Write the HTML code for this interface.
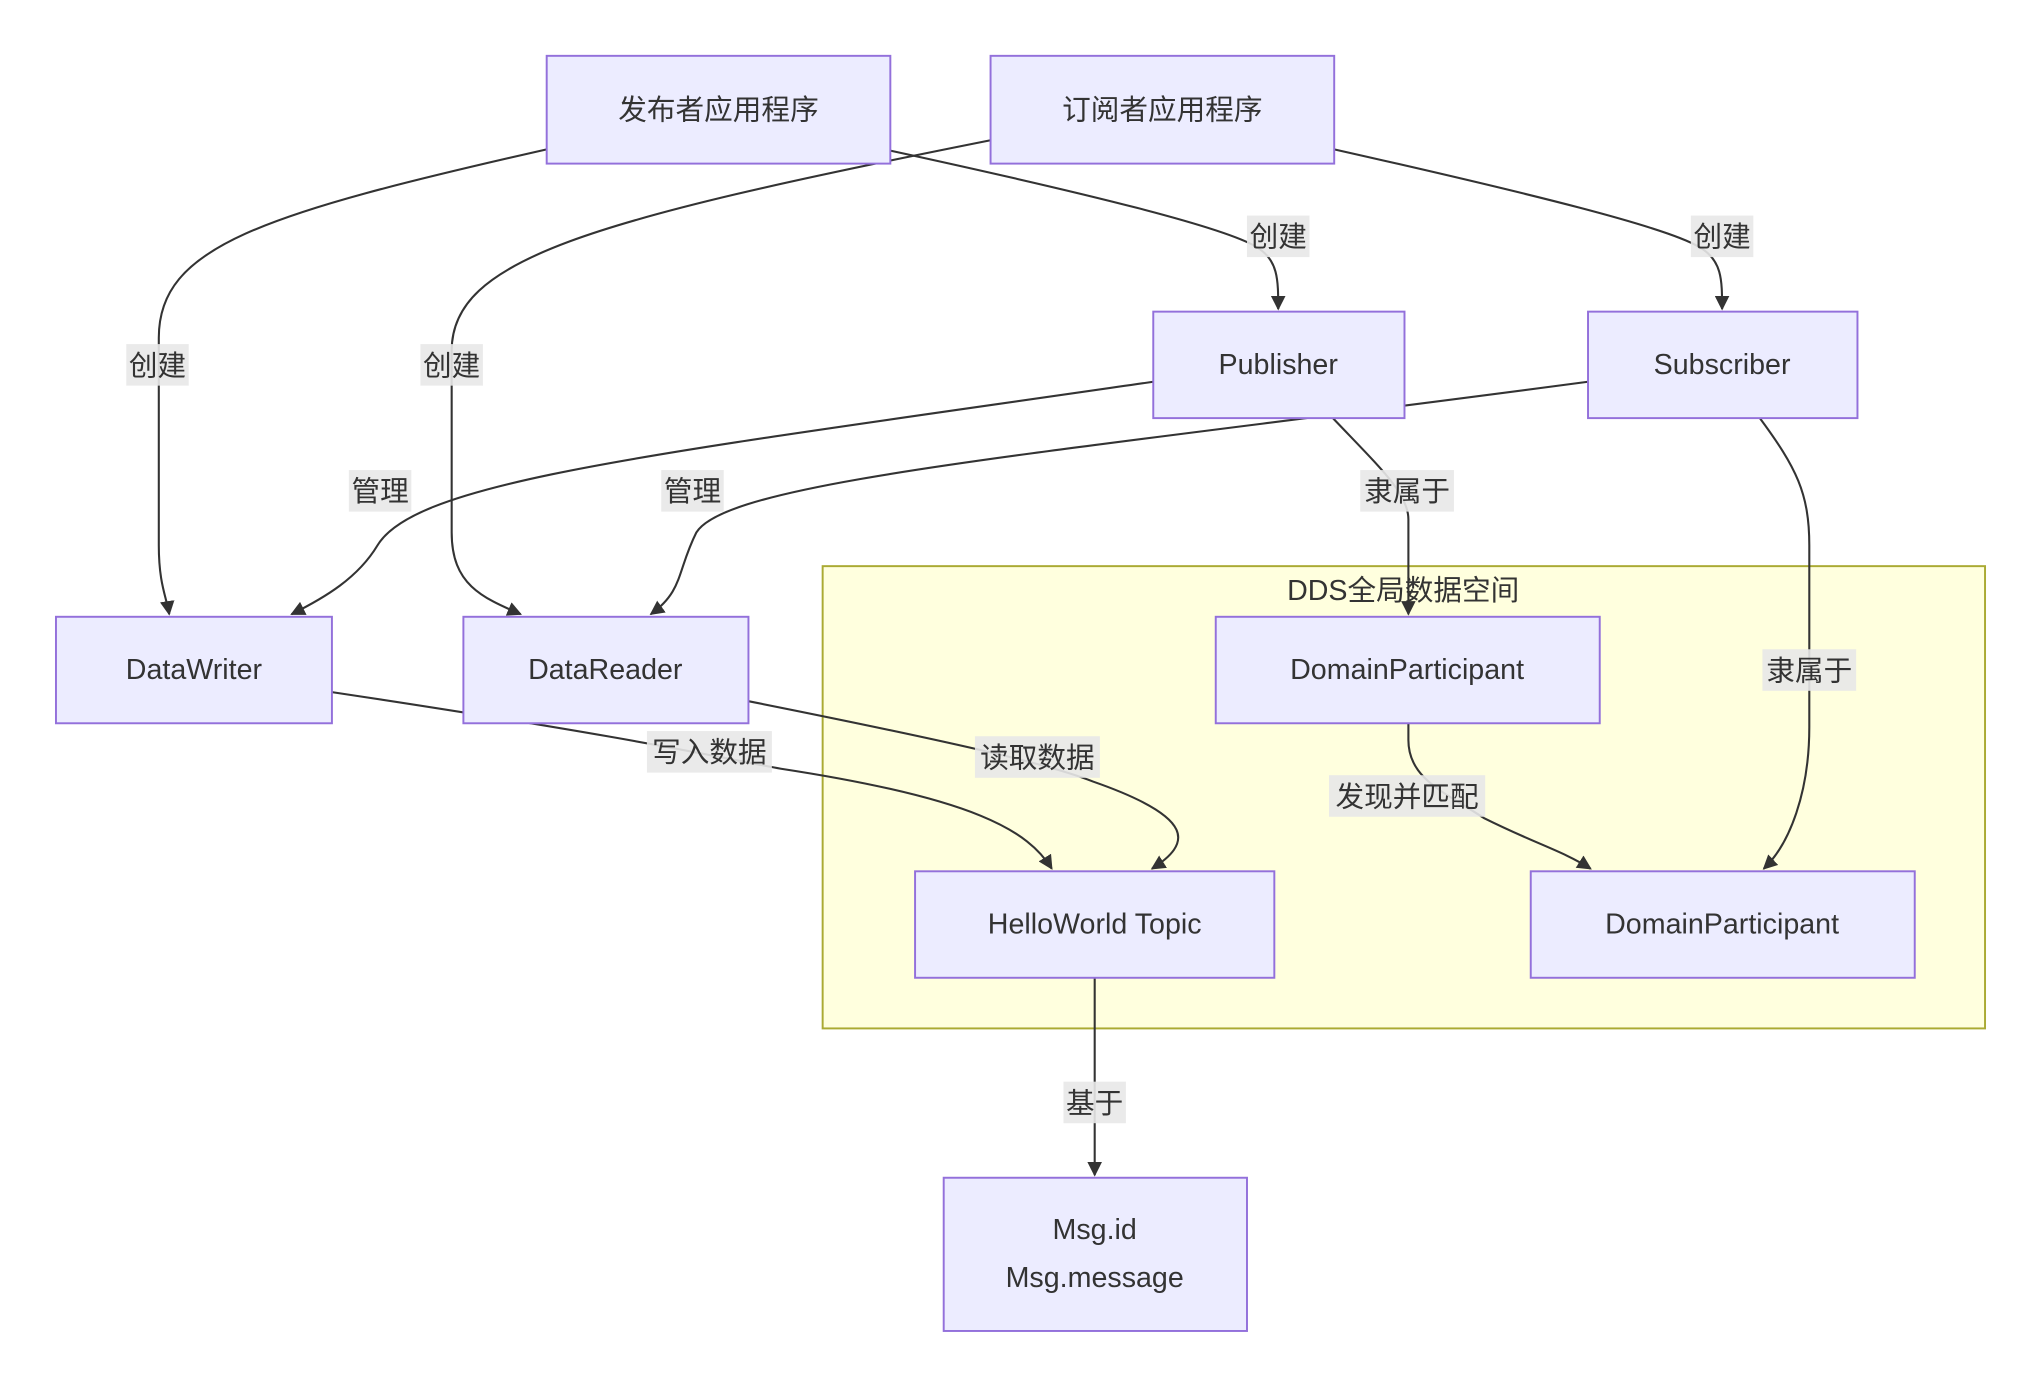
<!DOCTYPE html>
<html><head><meta charset="utf-8"><style>
html,body{margin:0;padding:0;background:#fff;}
svg{display:block;}
text{font-family:"Liberation Sans","Noto Sans CJK SC",sans-serif;font-size:22px;fill:#333;}
.n{fill:#ececff;stroke:#9370db;stroke-width:1.5;}
.e{fill:none;stroke:#333;stroke-width:1.6;}
.lb{fill:#e8e8e8;opacity:0.9;}
</style></head><body>
<svg width="2041" height="1392" viewBox="0 0 1568 1072" preserveAspectRatio="none" xmlns="http://www.w3.org/2000/svg">
<defs><marker id="a" viewBox="0 0 10 10" refX="9" refY="5" markerWidth="7" markerHeight="7" orient="auto"><path d="M0,0L10,5L0,10z" fill="#333"/></marker></defs>
<rect x="632" y="436" width="893" height="356" fill="#ffffde" stroke="#aaaa33" stroke-width="1.5"/>
<text x="1078" y="462" text-anchor="middle">DDS全局数据空间</text>

<path class="e" marker-end="url(#a)" d="M420,115 C200,165 122,190 122,260 L122,420 C122,450 128,460 130,473"/>
<path class="e" marker-end="url(#a)" d="M761,108 C450,170 347,200 347,270 L347,410 C347,450 370,460 400,473"/>
<path class="e" marker-end="url(#a)" d="M684,116 C840,150 940,175 965,190 C982,200 982,215 982,238"/>
<path class="e" marker-end="url(#a)" d="M1025,115 C1180,150 1280,175 1305,190 C1323,200 1323,215 1323,238"/>
<path class="e" marker-end="url(#a)" d="M886,294 C500,350 320,370 290,420 C275,445 250,460 224,473"/>
<path class="e" marker-end="url(#a)" d="M1220,294 C800,350 560,370 535,410 C520,440 525,455 500,473"/>
<path class="e" marker-end="url(#a)" d="M1024,322 C1060,360 1082,380 1082,400 L1082,473"/>
<path class="e" marker-end="url(#a)" d="M1352,322 C1380,360 1390,380 1390,420 L1390,560 C1390,610 1375,650 1355,669"/>
<path class="e" marker-end="url(#a)" d="M255,533 C500,570 560,585 600,592 C750,615 790,640 808,669"/>
<path class="e" marker-end="url(#a)" d="M575,540 C750,575 810,590 840,602 C920,630 915,650 885,669"/>
<path class="e" marker-end="url(#a)" d="M1082,557 L1082,570 C1082,600 1110,610 1140,630 C1180,650 1200,655 1222,669"/>
<path class="e" marker-end="url(#a)" d="M841,753 L841,905"/>

<g>
<rect class="lb" x="97" y="265" width="48" height="32"/><text x="121" y="289" text-anchor="middle">创建</text>
<rect class="lb" x="323" y="265" width="48" height="32"/><text x="347" y="289" text-anchor="middle">创建</text>
<rect class="lb" x="958" y="166" width="48" height="32"/><text x="982" y="190" text-anchor="middle">创建</text>
<rect class="lb" x="1299" y="166" width="48" height="32"/><text x="1323" y="190" text-anchor="middle">创建</text>
<rect class="lb" x="268" y="362" width="48" height="32"/><text x="292" y="386" text-anchor="middle">管理</text>
<rect class="lb" x="508" y="362" width="48" height="32"/><text x="532" y="386" text-anchor="middle">管理</text>
<rect class="lb" x="1045" y="362" width="72" height="32"/><text x="1081" y="386" text-anchor="middle">隶属于</text>
<rect class="lb" x="1354" y="500" width="72" height="32"/><text x="1390" y="524" text-anchor="middle">隶属于</text>
<rect class="lb" x="497" y="563" width="96" height="32"/><text x="545" y="587" text-anchor="middle">写入数据</text>
<rect class="lb" x="749" y="567" width="96" height="32"/><text x="797" y="591" text-anchor="middle">读取数据</text>
<rect class="lb" x="1021" y="597" width="120" height="32"/><text x="1081" y="621" text-anchor="middle">发现并匹配</text>
<rect class="lb" x="817" y="833" width="48" height="32"/><text x="841" y="857" text-anchor="middle">基于</text>
</g>

<rect class="n" x="420" y="43" width="264" height="83"/><text x="552" y="92" text-anchor="middle">发布者应用程序</text>
<rect class="n" x="761" y="43" width="264" height="83"/><text x="893" y="92" text-anchor="middle">订阅者应用程序</text>
<rect class="n" x="886" y="240" width="193" height="82"/><text x="982" y="288" text-anchor="middle">Publisher</text>
<rect class="n" x="1220" y="240" width="207" height="82"/><text x="1323" y="288" text-anchor="middle">Subscriber</text>
<rect class="n" x="43" y="475" width="212" height="82"/><text x="149" y="523" text-anchor="middle">DataWriter</text>
<rect class="n" x="356" y="475" width="219" height="82"/><text x="465" y="523" text-anchor="middle">DataReader</text>
<rect class="n" x="934" y="475" width="295" height="82"/><text x="1081" y="523" text-anchor="middle">DomainParticipant</text>
<rect class="n" x="703" y="671" width="276" height="82"/><text x="841" y="719" text-anchor="middle">HelloWorld Topic</text>
<rect class="n" x="1176" y="671" width="295" height="82"/><text x="1323" y="719" text-anchor="middle">DomainParticipant</text>
<rect class="n" x="725" y="907" width="233" height="118"/><text x="841" y="954" text-anchor="middle">Msg.id</text><text x="841" y="991" text-anchor="middle">Msg.message</text>
</svg>
</body></html>
